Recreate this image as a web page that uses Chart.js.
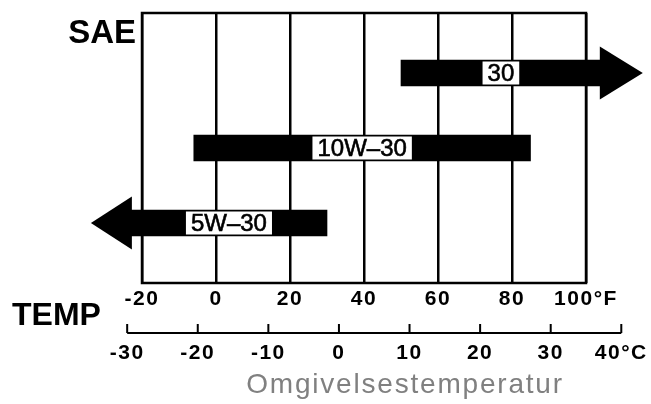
<!DOCTYPE html>
<html>
<head>
<meta charset="utf-8">
<script src="https://cdn.jsdelivr.net/npm/chart.js@4.4.0/dist/chart.umd.min.js"></script>
<style>
  html, body { margin: 0; padding: 0; background: #fff; }
  #wrap { width: 651px; height: 404px; }
</style>
</head>
<body>
<div id="wrap"><canvas id="oilChart" width="651" height="404"></canvas></div>
<script>
// SAE grades, temperature span of the bar body in °F, and which end carries an arrow
const grades = ["30", "10W\u201330", "5W\u201330"];
const fromF = [50, -6, -23];
const toF = [104, 85, 30];
const arrowSide = ["right", "", "left"];

// Fahrenheit ticks on the frame, Celsius ticks on the ruler underneath
const fTicks = [-20, 0, 20, 40, 60, 80, 100];
const cTicks = [-30, -20, -10, 0, 10, 20, 30, 40];
const axisTitle = "Omgivelsestemperatur";

const FONT = '"Liberation Sans", Arial, sans-serif';

const drawingPlugin = {
    id: "oilDrawing",
    beforeDraw: function (chart) {
        chart.ctx.letterSpacing = "1.5px";
    },
    afterDatasetsDraw: function (chart) {
        const ctx = chart.ctx;
        const area = chart.chartArea;
        const meta = chart.getDatasetMeta(0);

        ctx.save();
        ctx.letterSpacing = "0px";

        // frame
        ctx.strokeStyle = "#000";
        ctx.lineWidth = 2.5;
        ctx.strokeRect(area.left, area.top, area.right - area.left, area.bottom - area.top);

        // arrow heads and grade labels
        meta.data.forEach(function (bar, i) {
            const y = bar.y;
            ctx.fillStyle = "#000";
            if (arrowSide[i] === "right") {
                ctx.beginPath();
                ctx.moveTo(bar.x - 1, y - 26.5);
                ctx.lineTo(bar.x + 42, y);
                ctx.lineTo(bar.x - 1, y + 26.5);
                ctx.closePath();
                ctx.fill();
            } else if (arrowSide[i] === "left") {
                ctx.beginPath();
                ctx.moveTo(bar.base + 1, y - 26.5);
                ctx.lineTo(bar.base - 40, y);
                ctx.lineTo(bar.base + 1, y + 26.5);
                ctx.closePath();
                ctx.fill();
            }
            const cx = (bar.x + bar.base) / 2;
            ctx.font = "24px " + FONT;
            const w = ctx.measureText(grades[i]).width + 10;
            ctx.fillStyle = "#fff";
            ctx.fillRect(cx - w / 2, y - 11.5, w, 23);
            ctx.fillStyle = "#000";
            ctx.strokeStyle = "#000";
            ctx.lineWidth = 0.6;
            ctx.textAlign = "center";
            ctx.textBaseline = "middle";
            ctx.fillText(grades[i], cx, y + 1);
            ctx.strokeText(grades[i], cx, y + 1);
        });

        // Celsius ruler
        const cs = chart.scales.xc;
        const ry = 333;
        ctx.strokeStyle = "#000";
        ctx.lineWidth = 2;
        ctx.beginPath();
        ctx.moveTo(cs.getPixelForValue(cTicks[0]), ry);
        ctx.lineTo(cs.getPixelForValue(cTicks[cTicks.length - 1]), ry);
        cTicks.forEach(function (v) {
            const px = cs.getPixelForValue(v);
            ctx.moveTo(px, ry);
            ctx.lineTo(px, ry - 9);
        });
        ctx.stroke();

        ctx.font = "bold 21px " + FONT;
        ctx.letterSpacing = "1.5px";
        ctx.fillStyle = "#000";
        ctx.textAlign = "center";
        ctx.textBaseline = "middle";
        cTicks.forEach(function (v, i) {
            const label = i === cTicks.length - 1 ? v + "\u00b0C" : String(v);
            ctx.fillText(label, cs.getPixelForValue(v), 353);
        });

        // side captions
        ctx.letterSpacing = "0px";
        ctx.font = "bold 33px " + FONT;
        ctx.textAlign = "right";
        ctx.textBaseline = "alphabetic";
        ctx.fillText("SAE", 136, 43);
        ctx.textAlign = "left";
        ctx.font = "bold 32px " + FONT;
        ctx.fillText("TEMP", 12, 325);

        // axis title
        ctx.font = "28px " + FONT;
        ctx.letterSpacing = "1.8px";
        ctx.fillStyle = "#808080";
        ctx.textAlign = "center";
        ctx.textBaseline = "middle";
        ctx.fillText(axisTitle, 405, 385);
        ctx.restore();
    }
};

const ctx = document.getElementById("oilChart").getContext("2d");
const chart = new Chart(ctx, {
    type: "bar",
    data: {
        datasets: [
            {
                data: grades.map(function (g, i) {
                    return { x: [fromF[i], toF[i]], y: i + 1 };
                }),
                backgroundColor: "#000",
                borderWidth: 0,
                barThickness: 26,
                clip: false,
            },
        ],
    },
    options: {
        indexAxis: "y",
        responsive: false,
        animation: false,
        devicePixelRatio: 1,
        layout: {
            padding: { left: 142, right: 65, top: 13, bottom: 0 },
        },
        scales: {
            x: {
                type: "linear",
                min: -20,
                max: 100,
                afterBuildTicks: function (scale) {
                    scale.ticks = fTicks.map(function (v) { return { value: v }; });
                },
                afterFit: function (scale) {
                    scale.height = 121;
                },
                ticks: {
                    color: "#000",
                    padding: 4,
                    maxRotation: 0,
                    font: { family: FONT, size: 21, weight: "bold" },
                    callback: function (v) {
                        return v === 100 ? "100\u00b0F" : v;
                    },
                },
                grid: {
                    color: "#000",
                    lineWidth: 2.5,
                    drawTicks: false,
                },
                border: { display: false },
            },
            xc: {
                type: "linear",
                axis: "x",
                display: false,
                min: -27.9,
                max: 35.0,
            },
            y: {
                type: "linear",
                min: 0.2,
                max: 3.8,
                reverse: true,
                offset: false,
                display: false,
            },
        },
        plugins: {
            legend: { display: false },
            tooltip: { enabled: false },
        },
    },
    plugins: [drawingPlugin],
});
</script>
</body>
</html>
